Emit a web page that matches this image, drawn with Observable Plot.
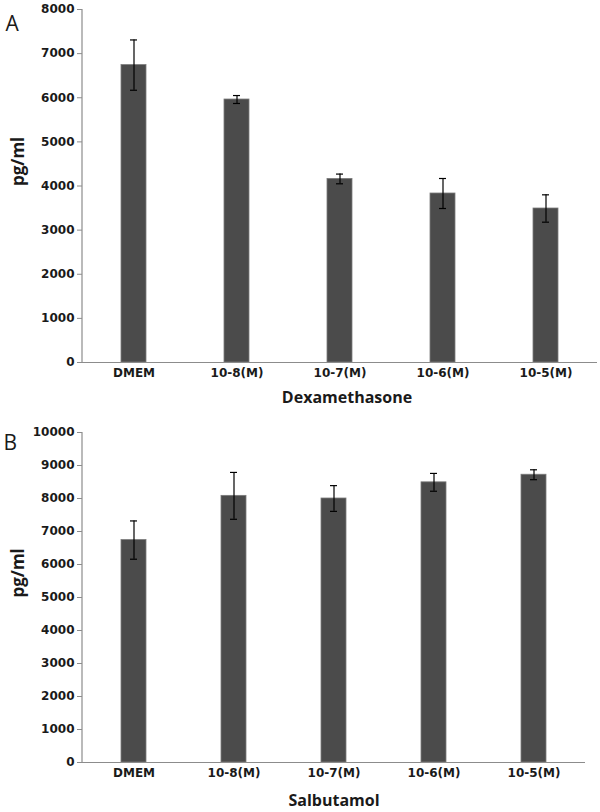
<!DOCTYPE html>
<html>
<head>
<meta charset="utf-8">
<script src="https://cdn.jsdelivr.net/npm/d3@7"></script>
<script src="https://cdn.jsdelivr.net/npm/@observablehq/plot@0.6"></script>
<style>
  html, body { margin: 0; padding: 0; background: #fff; }
  #chart svg { display: block; }
  #chart svg text.ticklbl {
    font-family: 'DejaVu Sans', sans-serif !important;
    font-size: 12px !important;
    font-weight: 700 !important;
  }
</style>
</head>
<body>
<div id="chart"></div>
<script>
const categories = ["DMEM", "10-8(M)", "10-7(M)", "10-6(M)", "10-5(M)"];
const dexMean = [6740, 5960, 4160, 3830, 3490];
const dexErr  = [570, 90, 110, 340, 310];
const salMean = [6740, 8080, 8000, 8490, 8720];
const salErr  = [580, 710, 390, 270, 150];
const yTicksA = [0, 1000, 2000, 3000, 4000, 5000, 6000, 7000, 8000];
const yTicksB = [0, 1000, 2000, 3000, 4000, 5000, 6000, 7000, 8000, 9000, 10000];

const AXIS = "#8c8c8c";
const BAR = "#4b4b4b";
const FONT = "'Open Sans', sans-serif";
const TICKFONT = "'DejaVu Sans', sans-serif";

function yLine() {
  return (index, scales, values, dims) => {
    const l = document.createElementNS("http://www.w3.org/2000/svg", "line");
    l.setAttribute("x1", dims.marginLeft);
    l.setAttribute("x2", dims.marginLeft);
    l.setAttribute("y1", dims.marginTop);
    l.setAttribute("y2", dims.height - dims.marginBottom);
    l.setAttribute("stroke", AXIS);
    l.setAttribute("stroke-width", 1.2);
    return l;
  };
}

function panel({means, errs, ticks, yMax, height, marginTop, marginBottom, marginRight, letter, letterDx, letterDy, xTitle, xTitleDx, xTitleDy}) {
  const data = categories.map((c, i) => ({cat: c, v: means[i], lo: means[i] - errs[i], hi: means[i] + errs[i]}));
  const svg = Plot.plot({
    width: 600,
    height,
    marginLeft: 82,
    marginRight,
    marginTop,
    marginBottom,
    style: {fontFamily: FONT, fontSize: "14px", color: "#1a1a1a", background: "#fff", overflow: "visible"},
    x: {domain: categories, paddingInner: 0.755, paddingOuter: 0.3775, label: null},
    y: {domain: [0, yMax], label: null},
    marks: [
      Plot.axisY({ticks, tickFormat: d3.format("d"), tickSize: 5, tickPadding: 3, stroke: AXIS, fill: "#1a1a1a", label: null, fontSize: 12, fontWeight: 700, fontFamily: TICKFONT}),
      Plot.axisX({tickSize: 0, tickPadding: 6, fill: "#1a1a1a", label: null, fontSize: 12, fontWeight: 700, fontFamily: TICKFONT}),
      Plot.barY(data, {x: "cat", y: "v", fill: BAR, stroke: "#7a7a7a", strokeWidth: 0.8}),
      Plot.ruleX(data, {x: "cat", y1: "lo", y2: "hi", stroke: "#000", strokeWidth: 1.2}),
      Plot.tickY(data, {x: "cat", y: "hi", stroke: "#000", strokeWidth: 1.2, insetLeft: 9, insetRight: 9}),
      Plot.tickY(data, {x: "cat", y: "lo", stroke: "#000", strokeWidth: 1.2, insetLeft: 9, insetRight: 9}),
      Plot.ruleY([0], {stroke: AXIS, strokeWidth: 1.2}),
      yLine(),
      Plot.text(["pg/ml"], {frameAnchor: "left", dx: -64, rotate: -90, fontSize: 17, fontWeight: 700, fill: "#1a1a1a"}),
      Plot.text([xTitle], {frameAnchor: "bottom", dx: xTitleDx, dy: xTitleDy, fontSize: 16, fontWeight: 700, fill: "#1a1a1a"}),
      Plot.text([letter], {frameAnchor: "top-left", dx: letterDx, dy: letterDy, textAnchor: "start", fontSize: 21, fontWeight: 400, fill: "#1a1a1a"})
    ]
  });
  const labels = new Set([...categories, ...ticks.map(String)]);
  svg.querySelectorAll("text").forEach(t => {
    if (labels.has(t.textContent.trim())) t.classList.add("ticklbl");
  });
  return svg;
}

const chart = document.getElementById("chart");
chart.append(panel({
  means: dexMean, errs: dexErr, ticks: yTicksA, yMax: 8000,
  height: 415, marginTop: 9, marginBottom: 53, marginRight: 3,
  letter: "A", letterDx: -77, letterDy: 7,
  xTitle: "Dexamethasone", xTitleDx: 7, xTitleDy: 40
}));
chart.append(panel({
  means: salMean, errs: salErr, ticks: yTicksB, yMax: 10000,
  height: 397, marginTop: 17, marginBottom: 50, marginRight: 15,
  letter: "B", letterDx: -79, letterDy: 3,
  xTitle: "Salbutamol", xTitleDx: 0, xTitleDy: 43
}));
</script>
</body>
</html>
